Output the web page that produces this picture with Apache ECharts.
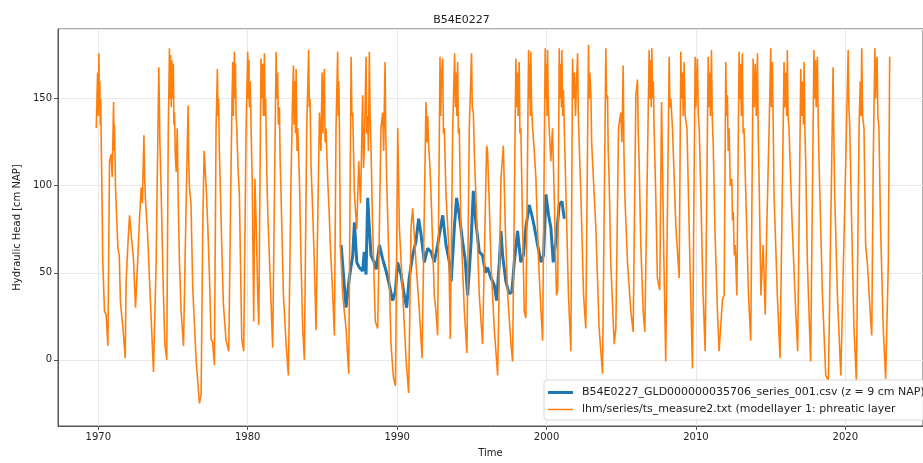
<!DOCTYPE html>
<html>
<head>
<meta charset="utf-8">
<script src="https://cdn.jsdelivr.net/npm/echarts@6/dist/echarts.min.js"></script>
<style>html,body{margin:0;padding:0;background:#fff;}#c{width:923px;height:463px;}</style>
</head>
<body>
<div id="c"></div>
<script>
const titleText = 'B54E0227';
const blueName = 'B54E0227_GLD000000035706_series_001.csv (z = 9 cm NAP)';
const orangeName = 'lhm/series/ts_measure2.txt (modellayer 1: phreatic layer';
const xTickLabels = [1970, 1980, 1990, 2000, 2010, 2020];
const yTickLabels = [0, 50, 100, 150];

// measured series: [decimal year, head cm NAP]
const blueData = [[1986.25,66],[1986.40,50],[1986.58,30],[1986.80,47],[1987.03,60],[1987.14,79],[1987.30,56],[1987.47,53],[1987.69,51],[1987.80,62],[1987.92,49],[1988.03,93],[1988.14,76],[1988.25,60],[1988.47,56],[1988.60,52],[1988.81,66],[1989.03,58],[1989.26,51],[1989.48,43],[1989.70,34],[1989.88,39],[1990.03,56],[1990.26,49],[1990.48,37],[1990.64,30],[1990.81,47],[1991.04,60],[1991.26,68],[1991.44,81],[1991.60,72],[1991.82,56],[1992.04,64],[1992.27,62],[1992.49,56],[1992.71,66],[1993.05,83],[1993.27,66],[1993.50,56],[1993.62,45],[1993.83,76],[1993.98,93],[1994.16,83],[1994.38,68],[1994.55,58],[1994.72,37],[1994.94,66],[1995.10,97],[1995.27,79],[1995.50,62],[1995.72,60],[1995.90,50],[1996.05,53],[1996.28,47],[1996.50,43],[1996.66,34],[1996.84,56],[1996.95,74],[1997.06,60],[1997.28,45],[1997.50,38],[1997.68,39],[1997.84,56],[1998.06,74],[1998.28,56],[1998.45,60],[1998.62,76],[1998.84,89],[1999.02,83],[1999.17,77],[1999.40,66],[1999.63,56],[1999.80,60],[1999.96,95],[2000.14,83],[2000.29,76],[2000.45,56],[2000.63,68],[2000.85,89],[2001.03,91],[2001.19,81]];

// model series: [decimal year, head cm NAP]
const orangeData = [
[1969.86,133],[1969.95,165],[1970.00,140],[1970.04,176],[1970.07,145],[1970.10,160],[1970.13,135],[1970.16,150],[1970.19,128],[1970.22,110],[1970.30,56],[1970.41,28],[1970.52,26],[1970.64,8],
[1970.75,114],[1970.85,118],[1970.93,105],[1971.02,148],[1971.06,120],[1971.08,135],[1971.15,99],[1971.31,64],[1971.40,60],[1971.48,33],[1971.65,18],[1971.80,1],
[1971.86,45],[1972.00,70],[1972.09,83],[1972.20,72],[1972.35,58],[1972.49,30],[1972.64,58],[1972.75,80],[1972.87,99],[1972.95,90],[1973.05,129],[1973.10,105],[1973.16,91],[1973.30,72],[1973.47,37],[1973.69,-7],
[1973.87,56],[1973.94,102],[1974.05,168],[1974.12,125],[1974.21,95],[1974.35,40],[1974.45,9],[1974.58,0],
[1974.68,130],[1974.76,179],[1974.80,150],[1974.84,175],[1974.88,145],[1974.92,172],[1974.98,150],[1975.02,170],[1975.06,135],[1975.10,142],[1975.15,118],[1975.21,108],[1975.28,133],[1975.35,90],[1975.43,56],[1975.54,28],[1975.70,8],
[1975.88,91],[1976.01,146],[1976.05,115],[1976.10,99],[1976.20,90],[1976.32,41],[1976.55,-1],[1976.77,-25],[1976.88,-20],
[1976.99,76],[1977.08,120],[1977.22,99],[1977.33,76],[1977.44,47],[1977.55,12],[1977.65,10],[1977.77,-3],
[1977.88,133],[1977.97,167],[1978.01,140],[1978.05,150],[1978.10,120],[1978.15,104],[1978.26,66],[1978.37,32],[1978.55,11],[1978.73,5],
[1978.89,114],[1978.95,150],[1979.00,171],[1979.04,140],[1979.08,165],[1979.11,177],[1979.14,150],[1979.18,170],[1979.22,140],[1979.27,133],[1979.35,110],[1979.44,95],[1979.60,12],[1979.73,5],
[1979.89,133],[1980.00,177],[1980.04,150],[1980.08,172],[1980.11,145],[1980.17,160],[1980.23,130],[1980.30,104],[1980.40,22],[1980.48,104],[1980.56,80],[1980.67,37],[1980.74,20],
[1980.89,173],[1980.95,150],[1981.00,170],[1981.05,140],[1981.12,176],[1981.16,140],[1981.20,150],[1981.27,110],[1981.34,85],[1981.50,47],[1981.67,7],
[1981.90,177],[1981.94,150],[1982.00,165],[1982.05,135],[1982.12,145],[1982.17,115],[1982.23,95],[1982.39,37],[1982.57,9],[1982.72,-9],
[1982.90,104],[1983.00,150],[1983.06,169],[1983.10,135],[1983.15,160],[1983.20,130],[1983.24,167],[1983.30,120],[1983.35,133],[1983.46,104],[1983.57,56],[1983.68,18],[1983.79,0],
[1983.95,133],[1984.08,178],[1984.12,145],[1984.17,150],[1984.24,110],[1984.31,95],[1984.46,56],[1984.57,17],[1984.68,18],
[1984.80,142],[1984.90,120],[1984.98,165],[1985.03,130],[1985.08,155],[1985.13,167],[1985.18,125],[1985.24,133],[1985.35,104],[1985.45,85],[1985.53,66],[1985.69,37],[1985.80,14],
[1985.91,133],[1986.02,177],[1986.06,140],[1986.10,160],[1986.14,130],[1986.20,66],[1986.36,37],[1986.58,18],[1986.76,-8],
[1986.92,174],[1986.97,140],[1987.03,142],[1987.14,95],[1987.30,75],[1987.43,114],[1987.55,90],[1987.69,152],[1987.75,110],[1987.80,120],[1987.92,174],[1987.97,130],[1988.03,140],[1988.08,120],[1988.14,177],[1988.19,140],[1988.25,123],[1988.36,76],[1988.54,22],[1988.70,18],
[1988.92,133],[1989.03,142],[1989.10,120],[1989.19,171],[1989.24,130],[1989.30,104],[1989.45,56],[1989.59,9],[1989.75,-10],[1989.89,-15],
[1990.04,133],[1990.15,76],[1990.38,37],[1990.60,0],[1990.77,-19],
[1990.93,76],[1991.04,87],[1991.26,56],[1991.49,28],[1991.67,1],[1991.77,0],
[1991.93,148],[1992.00,125],[1992.05,140],[1992.11,123],[1992.20,110],[1992.27,95],[1992.49,37],[1992.60,28],[1992.71,14],
[1992.87,174],[1992.92,140],[1992.98,165],[1993.05,173],[1993.10,130],[1993.16,133],[1993.27,95],[1993.45,66],[1993.56,12],
[1993.72,133],[1993.85,176],[1993.90,145],[1993.95,165],[1994.00,140],[1994.05,171],[1994.10,130],[1994.16,133],[1994.27,76],[1994.50,28],[1994.67,4],
[1994.83,133],[1994.98,176],[1995.03,145],[1995.10,142],[1995.18,115],[1995.27,95],[1995.50,37],[1995.72,9],
[1995.99,123],[1996.05,120],[1996.15,95],[1996.28,56],[1996.50,18],[1996.73,-9],
[1996.95,104],[1997.11,123],[1997.24,76],[1997.40,37],[1997.62,9],[1997.73,-1],
[1997.95,173],[1998.00,145],[1998.05,165],[1998.10,140],[1998.17,171],[1998.22,130],[1998.28,133],[1998.40,76],[1998.51,28],[1998.62,24],
[1998.80,178],[1998.84,150],[1998.88,170],[1998.92,140],[1998.95,177],[1999.00,145],[1999.07,133],[1999.18,120],[1999.29,104],[1999.47,56],[1999.63,28],[1999.74,11],
[1999.91,179],[1999.95,150],[2000.00,170],[2000.04,140],[2000.07,178],[2000.12,145],[2000.18,133],[2000.29,114],[2000.40,133],[2000.51,95],[2000.67,37],[2000.75,40],
[2000.85,179],[2000.90,150],[2000.95,170],[2001.00,145],[2001.03,178],[2001.08,140],[2001.13,155],[2001.19,133],[2001.30,95],[2001.47,37],[2001.63,5],
[2001.74,173],[2001.80,150],[2001.87,165],[2001.94,140],[2002.01,160],[2002.08,176],[2002.13,140],[2002.19,123],[2002.30,95],[2002.48,37],[2002.63,18],
[2002.81,181],[2002.86,150],[2002.90,165],[2002.97,152],[2003.02,125],[2003.08,114],[2003.30,76],[2003.52,18],[2003.75,-8],
[2003.97,179],[2004.02,150],[2004.08,152],[2004.13,120],[2004.19,104],[2004.30,56],[2004.53,9],[2004.64,18],
[2004.82,133],[2004.97,142],[2005.05,125],[2005.13,169],[2005.18,120],[2005.24,95],[2005.42,56],[2005.64,28],[2005.80,16],
[2005.98,152],[2006.09,161],[2006.14,130],[2006.20,114],[2006.31,66],[2006.47,28],[2006.58,16],
[2006.87,178],[2006.92,150],[2006.97,172],[2007.01,145],[2007.05,179],[2007.10,150],[2007.15,160],[2007.20,133],[2007.31,95],[2007.42,47],[2007.58,40],[2007.70,148],[2007.85,60],[2007.98,-1],
[2008.21,174],[2008.26,145],[2008.32,150],[2008.43,133],[2008.66,76],[2008.88,47],
[2008.99,177],[2009.04,150],[2009.10,165],[2009.15,140],[2009.21,171],[2009.28,140],[2009.40,133],[2009.60,56],[2009.77,-5],
[2009.95,174],[2010.00,145],[2010.05,160],[2010.10,173],[2010.16,140],[2010.22,133],[2010.33,95],[2010.48,37],[2010.62,5],
[2010.82,174],[2010.87,145],[2010.92,165],[2010.97,140],[2011.04,178],[2011.09,140],[2011.16,123],[2011.27,76],[2011.44,28],[2011.55,5],
[2011.78,35],[2011.89,37],[2012.00,171],[2012.05,140],[2012.11,152],[2012.16,120],[2012.22,133],[2012.30,100],[2012.40,104],[2012.45,80],[2012.50,85],[2012.57,60],[2012.63,66],[2012.74,37],
[2012.89,177],[2012.94,150],[2012.99,170],[2013.04,140],[2013.11,176],[2013.16,130],[2013.22,133],[2013.34,95],[2013.52,37],[2013.67,11],
[2013.83,173],[2013.90,145],[2013.97,170],[2014.04,140],[2014.12,176],[2014.17,130],[2014.23,104],[2014.35,37],[2014.50,66],[2014.64,26],[2014.73,71],
[2014.90,133],[2015.01,179],[2015.05,145],[2015.12,171],[2015.18,130],[2015.23,95],[2015.45,37],[2015.63,1],
[2015.90,171],[2015.95,145],[2016.02,165],[2016.08,140],[2016.12,178],[2016.17,140],[2016.23,133],[2016.45,76],[2016.68,28],[2016.81,5],
[2017.02,167],[2017.08,140],[2017.15,160],[2017.20,135],[2017.24,171],[2017.30,130],[2017.35,114],[2017.46,56],[2017.68,-1],
[2017.90,178],[2017.95,150],[2018.00,172],[2018.05,145],[2018.13,174],[2018.18,140],[2018.24,114],[2018.47,37],[2018.69,-9],[2018.87,-12],
[2019.09,114],[2019.18,168],[2019.23,130],[2019.29,95],[2019.47,37],[2019.70,-9],
[2020.03,114],[2020.19,178],[2020.24,145],[2020.30,133],[2020.43,76],[2020.58,18],[2020.74,-12],
[2020.92,133],[2021.00,160],[2021.05,140],[2021.10,179],[2021.16,140],[2021.25,133],[2021.36,66],[2021.47,56],[2021.55,45],[2021.70,22],[2021.77,14],
[2021.87,114],[2021.98,179],[2022.03,150],[2022.08,170],[2022.13,174],[2022.18,140],[2022.25,133],[2022.36,76],[2022.54,18],[2022.70,-11],[2022.88,56],[2022.97,174]
];

const font = 'DejaVu Sans';

const chart = echarts.init(document.getElementById('c'), null, {renderer: 'canvas'});
chart.setOption({
  animation: false,
  backgroundColor: '#ffffff',
  title: {
    text: titleText, left: 'center', top: 10,
    textStyle: {fontFamily: font, fontSize: 11, fontWeight: 'normal', color: '#222'}
  },
  grid: {left: 58, right: -2, top: 29, bottom: 35, show: true, borderColor: '#555', borderWidth: 1, backgroundColor: 'transparent'},
  legend: {
    orient: 'vertical', left: 544, top: 380, itemGap: 6, itemWidth: 25, itemHeight: 10,
    padding: [7, 6, 5, 4],
    backgroundColor: 'rgba(255,255,255,0.85)', borderColor: '#d8d8d8', borderWidth: 1, borderRadius: 3,
    textStyle: {fontFamily: font, fontSize: 11, color: '#222', padding: [0, 0, 0, 4]},
    data: [
      {name: blueName, icon: 'path://M0,0H50V6H0Z', itemStyle: {color: '#1f77b4'}},
      {name: orangeName, icon: 'path://M0,0H50V3H0Z', itemStyle: {color: '#ff7f0e'}}
    ]
  },
  xAxis: {
    type: 'value', min: 1967.3, max: 2025.2, splitNumber: 5,
    name: 'Time', nameLocation: 'middle', nameGap: 22,
    nameTextStyle: {fontFamily: font, fontSize: 10, color: '#222'},
    axisLine: {show: true, onZero: false, lineStyle: {color: '#555'}},
    axisTick: {show: true, length: 4, lineStyle: {color: '#555'}},
    axisLabel: {
      fontFamily: font, fontSize: 10, color: '#222', margin: 6, showMinLabel: false, showMaxLabel: false,
      formatter: v => (xTickLabels.indexOf(Math.round(v)) >= 0 && Math.abs(v - Math.round(v)) < 1e-6) ? String(Math.round(v)) : ''
    },
    splitLine: {show: true, lineStyle: {color: '#e8e8e8', width: 1}}
  },
  yAxis: {
    type: 'value', min: -38, max: 190, splitNumber: 5,
    name: 'Hydraulic Head [cm NAP]', nameLocation: 'middle', nameGap: 32,
    nameTextStyle: {fontFamily: font, fontSize: 10, color: '#222'},
    axisLine: {show: true, onZero: false, lineStyle: {color: '#555'}},
    axisTick: {show: true, length: 4, lineStyle: {color: '#555'}},
    axisLabel: {
      fontFamily: font, fontSize: 10, color: '#222', margin: 6, showMinLabel: false, showMaxLabel: false,
      formatter: v => (yTickLabels.indexOf(Math.round(v)) >= 0 && Math.abs(v - Math.round(v)) < 1e-6) ? String(Math.round(v)) : ''
    },
    splitLine: {show: true, lineStyle: {color: '#e8e8e8', width: 1}}
  },
  series: [
    {
      name: blueName, type: 'line', data: blueData,
      symbol: 'none', lineStyle: {color: '#1f77b4', width: 3}, itemStyle: {color: '#1f77b4'}, z: 2
    },
    {
      name: orangeName, type: 'line', data: orangeData,
      symbol: 'none', lineStyle: {color: '#ff7f0e', width: 1.6}, itemStyle: {color: '#ff7f0e'}, z: 3
    }
  ]
});
</script>
</body>
</html>
